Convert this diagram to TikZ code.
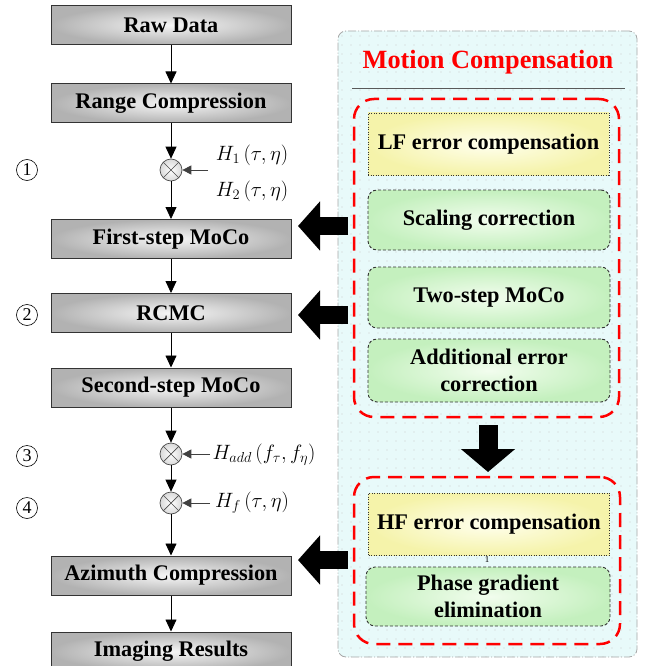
\documentclass[tikz,border=0pt]{standalone}
\usepackage{fontspec}
\setmainfont{Liberation Serif}
\usetikzlibrary{arrows.meta,patterns.meta}
\definecolor{panelfill}{RGB}{232,250,250}
\definecolor{greenin}{RGB}{242,253,238}
\definecolor{greenout}{RGB}{196,240,190}
\definecolor{yellowin}{RGB}{255,255,238}
\definecolor{yellowout}{RGB}{245,243,170}
\definecolor{grayin}{RGB}{246,246,246}
\definecolor{grayout}{RGB}{178,178,178}
\tikzdeclarepattern{
  name=sparsedots,
  type=uncolored,
  bottom left={(-1pt,-1pt)},
  top right={(1pt,1pt)},
  tile size={(9pt,9pt)},
  code={\fill (0pt,0pt) circle (0.7pt);}
}
\tikzset{
  flow/.style={draw=black, line width=0.8pt, -{Triangle[length=12pt,width=11pt]}},
  harrow/.style={draw=gray!50!black, line width=0.8pt, -{Triangle[length=9pt,width=9pt]}},
  procbox/.style={draw=gray!40!black, line width=1pt, inner color=grayin, outer color=grayout,
    minimum width=240pt, minimum height=39pt, inner sep=0pt,
    font=\fontsize{22.3}{24}\selectfont\bfseries},
  greenbox/.style={draw=black!80, dash pattern=on 3pt off 2pt, line width=0.9pt, rounded corners=9pt,
    inner color=greenin, outer color=greenout, minimum width=242pt, inner sep=0pt, align=center,
    font=\fontsize{22.3}{26.5}\selectfont\bfseries},
  yellowbox/.style={draw=black!80, dash pattern=on 1pt off 1.5pt, line width=0.9pt,
    inner color=yellowin, outer color=yellowout, minimum width=241pt, minimum height=62pt, inner sep=0pt,
    font=\fontsize{22.3}{26}\selectfont\bfseries},
  mult/.style={circle, draw=gray!60!black, line width=0.7pt, minimum size=22pt, inner sep=0pt,
    inner color=white, outer color=gray!30,
    path picture={\draw[gray!60!black, line width=0.7pt]
      (path picture bounding box.south west) -- (path picture bounding box.north east)
      (path picture bounding box.north west) -- (path picture bounding box.south east);}},
  redbox/.style={draw=red, line width=2.5pt, dash pattern=on 14pt off 8pt, rounded corners=20pt, inner sep=0pt},
  panel/.style={draw=gray!70, line width=0.8pt, dash pattern=on 8pt off 2pt on 1pt off 2pt,
    rounded corners=8pt, preaction={fill=panelfill}, pattern=sparsedots, pattern color=gray!40, inner sep=0pt},
  bigarrow/.style={draw=black, line width=18pt, -{Triangle[length=22pt,width=48pt]}},
  downarrow/.style={draw=black, line width=19pt, -{Triangle[length=23pt,width=53pt]}},
  circnum/.style={circle, draw=black, line width=0.6pt, minimum size=21pt, inner sep=0pt,
    font=\fontsize{18}{18}\selectfont},
  hlabel/.style={font=\fontsize{21}{21}\selectfont, inner sep=0pt}
}
\begin{document}
\begin{tikzpicture}[x=1pt,y=-1pt]
\useasboundingbox (0,0) rectangle (649,666);
% right panel
\node[panel, minimum width=299pt, minimum height=626pt] (panel) at (487.5,344) {};
\node[text=red, font=\fontsize{26.3}{26}\selectfont\bfseries, inner sep=0pt] (title) at (488,62) {Motion Compensation};
\coordinate (ruleL) at (352,88);
\coordinate (ruleR) at (625,88);
\draw[gray!70!black, line width=0.8pt] (ruleL) -- (ruleR);
\node[redbox, minimum width=265pt, minimum height=318pt] (red1) at (486.5,258) {};
\node[redbox, minimum width=266pt, minimum height=167pt] (red2) at (487,560.5) {};
\node[yellowbox] (lf) at (488.5,144) {LF error compensation};
\node[greenbox, minimum height=60pt] (scal) at (489,220) {Scaling correction};
\node[greenbox, minimum height=61pt] (two) at (489,297.5) {Two-step MoCo};
\node[greenbox, minimum height=63pt] (add) at (489,370.5) {Additional error\\correction};
\node[yellowbox] (hfbox) at (489,524) {HF error compensation};
\node[font=\fontsize{9}{9}\selectfont, inner sep=0pt] (one) at (487,560) {1};
\node[greenbox, minimum height=59pt, minimum width=244pt] (pg) at (488,596.5) {Phase gradient\\elimination};
\coordinate (dstart) at (488,425);
\coordinate (dend) at (488,472);
\draw[downarrow] (dstart) -- (dend);
% left flow
\node[procbox] (raw) at (171,25) {Raw Data};
\node[procbox] (range) at (171,103.5) {Range Compression};
\node[mult] (m1) at (171,170) {};
\node[procbox] (first) at (171,239) {First-step MoCo};
\node[procbox] (rcmc) at (171,313) {RCMC};
\node[procbox] (second) at (171,387.5) {Second-step MoCo};
\node[mult] (m3) at (171,454) {};
\node[mult] (m4) at (171,503) {};
\node[procbox] (azi) at (171,575.5) {Azimuth Compression};
\node[procbox] (img) at (171,651.5) {Imaging Results};
\draw[flow] (raw) -- (range);
\draw[flow] (range) -- (m1);
\draw[flow] (m1) -- (first);
\draw[flow] (first) -- (rcmc);
\draw[flow] (rcmc) -- (second);
\draw[flow] (second) -- (m3);
\draw[flow] (m3) -- (m4);
\draw[flow] (m4) -- (azi);
\draw[flow] (azi) -- (img);
% labels
\node[hlabel] (h1) at (252,155) {$H_1\left(\tau,\eta\right)$};
\node[hlabel] (h2) at (252,191) {$H_2\left(\tau,\eta\right)$};
\node[hlabel] (hadd) at (264,455) {$H_{add}\left(f_\tau,f_\eta\right)$};
\node[hlabel] (hf) at (252,503) {$H_f\left(\tau,\eta\right)$};
\coordinate (a1) at (208,170);
\coordinate (a3) at (210,454);
\coordinate (a4) at (210,503);
\draw[harrow] (a1) -- (m1);
\draw[harrow] (a3) -- (m3);
\draw[harrow] (a4) -- (m4);
\node[circnum] (c1) at (27,170) {1};
\node[circnum] (c2) at (27,315) {2};
\node[circnum] (c3) at (27,456) {3};
\node[circnum] (c4) at (27,508) {4};
% big arrows
\coordinate (b1s) at (348,226);
\coordinate (b1e) at (298,226);
\coordinate (b2s) at (348,315);
\coordinate (b2e) at (298,315);
\coordinate (b3s) at (348,560);
\coordinate (b3e) at (298,560);
\draw[bigarrow] (b1s) -- (b1e);
\draw[bigarrow] (b2s) -- (b2e);
\draw[bigarrow] (b3s) -- (b3e);
\end{tikzpicture}
\end{document}
